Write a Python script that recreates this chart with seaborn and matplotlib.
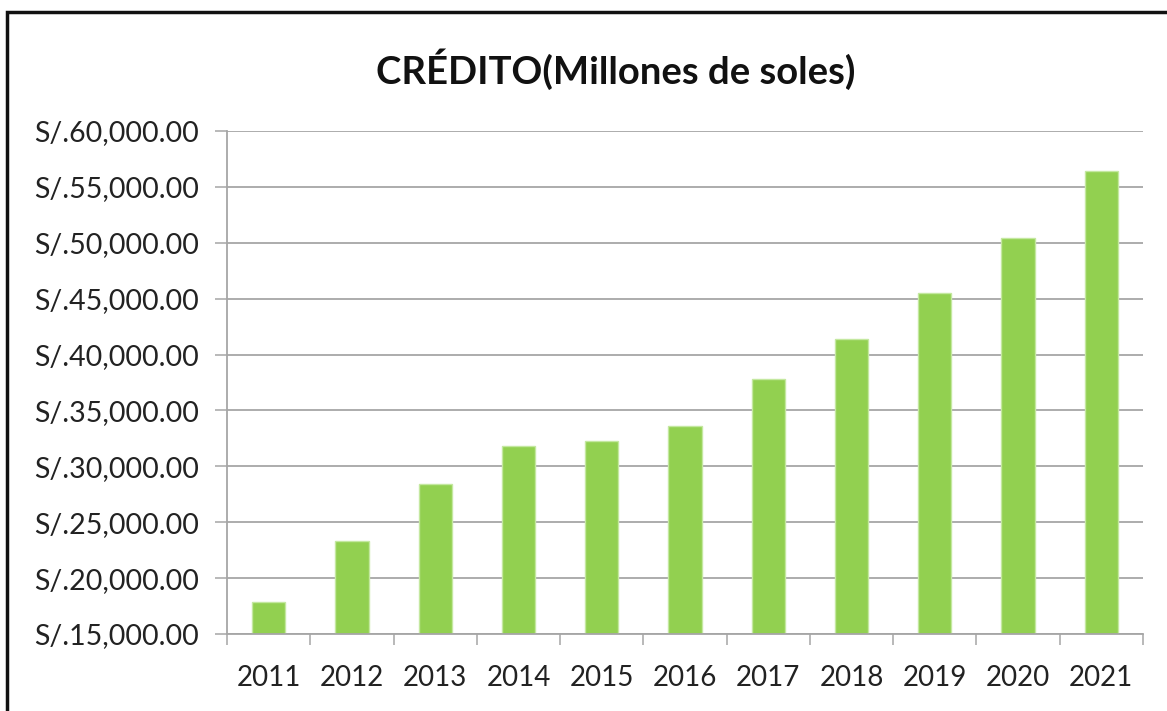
import matplotlib
matplotlib.use("Agg")
import matplotlib.pyplot as plt
import seaborn as sns
from matplotlib.ticker import FuncFormatter, MultipleLocator
from matplotlib.patches import Rectangle

# datos
years = ["2011", "2012", "2013", "2014", "2015", "2016",
         "2017", "2018", "2019", "2020", "2021"]
credito = [17870, 23280, 28390, 31850, 32260, 33630,
           37830, 41430, 45470, 50450, 56430]

sns.set_style("white")
plt.rcParams['font.family'] = ['Lato', 'DejaVu Sans']

fig = plt.figure(figsize=(11.67, 7.11), dpi=100)
ax = fig.add_axes([227 / 1167, 77 / 711, (1143 - 227) / 1167, (634 - 131) / 711])

sns.barplot(x=years, y=credito, color="#92d050", width=0.4,
            edgecolor="#c4e8a0", linewidth=1, saturation=1, ax=ax)

ax.set_ylim(15000, 60000)
ax.set_xlim(-0.5, len(years) - 0.5)
ax.yaxis.set_major_locator(MultipleLocator(5000))
ax.yaxis.set_major_formatter(FuncFormatter(lambda v, p: f"S/.{v:,.2f}"))
ax.grid(axis="y", color="#a6a6a6", linewidth=1.3)
ax.set_axisbelow(True)

# ticks entre categorias en el eje x
ax.set_xticks([i - 0.5 for i in range(len(years) + 1)], minor=True)
ax.tick_params(axis="x", which="minor", length=8, width=1.1, color="#a6a6a6", bottom=True)
ax.tick_params(axis="x", which="major", length=0, labelsize=20, pad=22, labelcolor="#222222")
ax.tick_params(axis="y", length=8.5, width=1.1, color="#a6a6a6", left=True,
               labelsize=20.5, pad=12, labelcolor="#222222")

for s in ["top", "right"]:
    ax.spines[s].set_visible(False)
for s in ["left", "bottom"]:
    ax.spines[s].set_color("#a6a6a6")
    ax.spines[s].set_linewidth(1.3)

ax.set_xlabel("")
ax.set_ylabel("")

fig.text(0.528, 1 - 69 / 711, "CRÉDITO(Millones de soles)", ha="center", va="center",
         fontsize=27.5, fontweight="bold", color="#111111")

# marco negro del grafico
fig.add_artist(Rectangle((7 / 1167, -0.5), 2, 0.5 + (1 - 12 / 711), transform=fig.transFigure,
                         fill=False, edgecolor="#111111", linewidth=2.5))

fig.savefig("out.png", dpi=100, facecolor="white")
